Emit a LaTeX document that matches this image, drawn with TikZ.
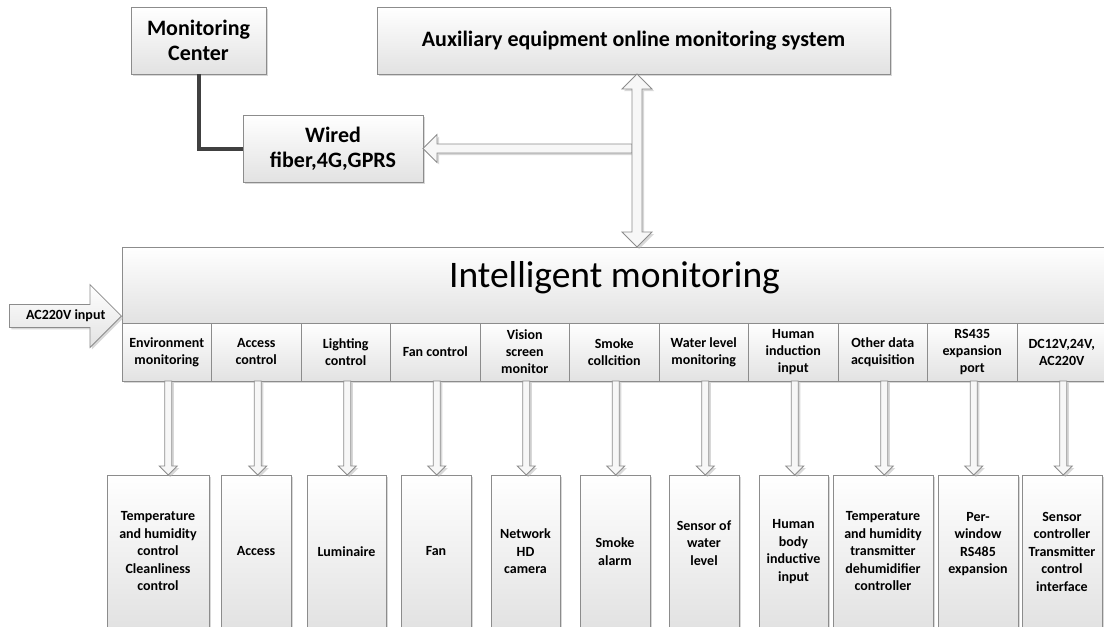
\documentclass[tikz,border=0pt]{standalone}
\usepackage{fontspec}
\setmainfont{Carlito}
\usetikzlibrary{calc,shadows,shapes.arrows}

\definecolor{edge}{HTML}{8C8C8C}
\definecolor{wire}{HTML}{404040}
\definecolor{shade}{HTML}{E2E2E2}

\tikzset{
  boxbase/.style={draw=edge, line width=0.8pt, top color=white, bottom color=shade,
    inner sep=0pt, outer sep=0pt, anchor=north west, align=center},
  shadowed/.style={drop shadow={shadow xshift=2pt, shadow yshift=-2pt, fill=black!30}},
  headbox/.style={boxbase, shadowed, font=\bfseries\fontsize{22}{25}\selectfont},
  cellbox/.style={boxbase, shadowed, font=\bfseries\fontsize{14}{17}\selectfont,
    minimum width=89.5pt, minimum height=58pt},
  devbox/.style={boxbase, shadowed, font=\bfseries\fontsize{14}{17.5}\selectfont,
    minimum height=153pt},
  lifted/.style={text depth=17pt},
  blockarrow/.style={draw=edge, line width=0.8pt, fill=black!3, shadowed},
  wireline/.style={draw=wire, line width=4pt},
}

% hollow arrow from a function cell down to its device box
\newcommand{\feedarrow}[2]{%
  \draw[blockarrow] let \p1=(#1.south), \p2=(#2.north) in
    (\x1-2pt,\y1) -- (\x1-2pt,\y2+9pt) -- (\x1-7.5pt,\y2+9pt) -- (\x1+1.5pt,\y2)
    -- (\x1+10.5pt,\y2+9pt) -- (\x1+5pt,\y2+9pt) -- (\x1+5pt,\y1) -- cycle;}

\begin{document}
\begin{tikzpicture}[x=1pt,y=-1pt]
\useasboundingbox (0,0) rectangle (1104,627);
\clip (0,0) rectangle (1104,627);

% upper level
\node[headbox, minimum width=135pt, minimum height=67pt] (mc) at (131,7) {Monitoring\\Center};
\node[headbox, minimum width=180pt, minimum height=67pt] (wired) at (243,115) {Wired\\fiber,4G,GPRS};
\node[headbox, minimum width=513pt, minimum height=67pt] (aux) at (377,7) {Auxiliary equipment online monitoring system};

\draw[wireline] (mc.south) |- (wired.west);

% main unit
\node[boxbase, shadowed, minimum width=985pt, minimum height=76pt] (im) at (122,247) {};
\node[font=\fontsize{37.5}{40}\selectfont, anchor=base] (imtitle) at ($(im.north)+(0,40)$) {Intelligent monitoring};

\foreach \i/\txt in {1/{Environment\\monitoring}, 2/{Access\\control}, 3/{Lighting\\control},
  4/{Fan control}, 5/{Vision\\screen\\monitor}, 6/{Smoke\\collcition}, 7/{Water level\\monitoring},
  8/{Human\\induction\\input}, 9/{Other data\\acquisition}, 10/{RS435\\expansion\\port},
  11/{DC12V,24V,\\AC220V}}
  \node[cellbox] (m\i) at ({122+89.5*(\i-1)},323) {\txt};

% field devices
\node[devbox, minimum width=102pt] (b1) at (107,475) {Temperature\\and humidity\\control\\Cleanliness\\control};
\node[devbox, minimum width=70pt] (b2) at (221,475) {Access};
\node[devbox, minimum width=79pt] (b3) at (307,475) {Luminaire};
\node[devbox, minimum width=70pt] (b4) at (401,475) {Fan};
\node[devbox, minimum width=69pt] (b5) at (491,475) {Network\\HD\\camera};
\node[devbox, minimum width=70pt] (b6) at (580,475) {Smoke\\alarm};
\node[devbox, lifted, minimum width=70pt] (b7) at (669,475) {Sensor of\\water\\level};
\node[devbox, minimum width=69pt] (b8) at (759,475) {Human\\body\\inductive\\input};
\node[devbox, minimum width=100pt] (b9) at (833,475) {Temperature\\and humidity\\transmitter\\dehumidifier\\controller};
\node[devbox, lifted, minimum width=80pt] (b10) at (938,475) {Per-\\window\\RS485\\expansion};
\node[devbox, minimum width=80pt] (b11) at (1022,475) {Sensor\\controller\\Transmitter\\control\\interface};

\foreach \i in {1,...,11} \feedarrow{m\i}{b\i};

% link to the communication box
\coordinate (tap) at ($(aux.south)+(-1.5pt,0pt)$);
\draw[blockarrow] let \p1=(tap), \p2=(wired.east) in
  (\x1,\y2+4.5pt) -- (\x2+14pt,\y2+4.5pt) -- (\x2+14pt,\y2+14pt) -- (\x2,\y2)
  -- (\x2+14pt,\y2-14pt) -- (\x2+14pt,\y2-4.5pt) -- (\x1,\y2-4.5pt) -- cycle;

% two-way link between the system and the unit
\draw[blockarrow] let \p1=($(aux.south)+(3.5pt,0pt)$), \p2=(im.north) in
  (\x1,\y1) -- (\x1+15pt,\y1-15pt) -- (\x1+5pt,\y1-15pt) -- (\x1+5pt,\y2+15pt)
  -- (\x1+15pt,\y2+15pt) -- (\x1,\y2) -- (\x1-15pt,\y2+15pt) -- (\x1-5pt,\y2+15pt)
  -- (\x1-5pt,\y1-15pt) -- (\x1-15pt,\y1-15pt) -- cycle;

% power input
\coordinate (acTip) at ($(im.south west)+(0pt,7pt)$);
\node[single arrow, draw=edge, line width=0.8pt, top color=white, bottom color=shade, shadowed,
  minimum height=112pt, minimum width=63pt, single arrow head extend=20pt,
  single arrow tip angle=90, inner xsep=0pt, inner ysep=5pt, anchor=tip,
  font=\bfseries\fontsize{14}{17}\selectfont] (ac) at (acTip) {\hspace*{12pt}AC220V input};
\end{tikzpicture}
\end{document}
